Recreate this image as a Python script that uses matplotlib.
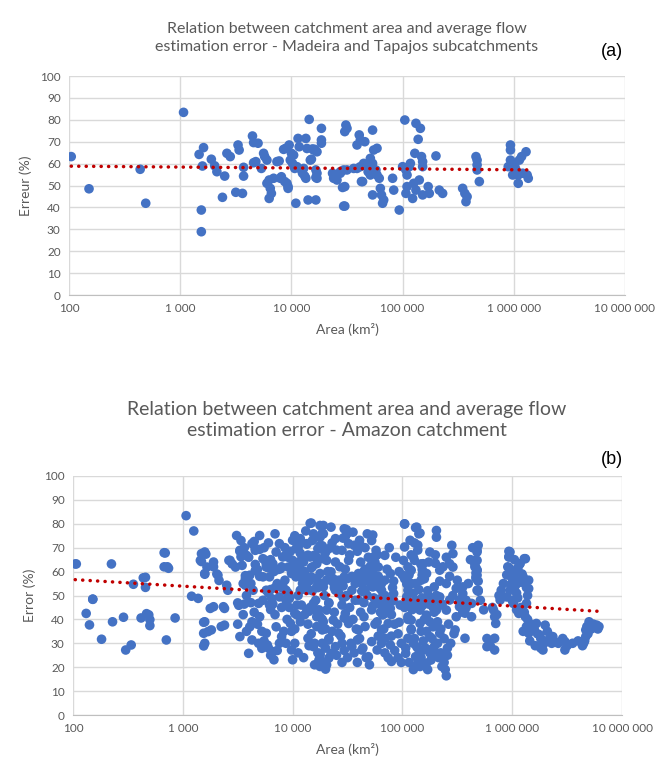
import numpy as np
import matplotlib
matplotlib.use("Agg")
import matplotlib.pyplot as plt
from matplotlib.ticker import FixedLocator, FuncFormatter, NullLocator

# ---------------- data (log10 of catchment area in km², error in %) ----------------
madeira_tapajos_log_area = [
    2.02, 2.18, 2.64, 2.69, 3.03, 3.17, 3.21, 3.20, 3.19, 3.19, 3.28, 3.31, 3.33, 3.38,
    3.40, 3.42, 3.45, 3.50, 3.52, 3.53, 3.56, 3.57, 3.57, 3.65, 3.66, 3.70, 3.66, 3.68,
    3.75, 3.76, 3.78, 3.73, 3.78, 3.80, 3.81, 3.82, 3.80, 3.84, 3.87, 3.89, 3.91, 3.93,
    3.95, 3.96, 3.98, 3.97, 3.99, 4.00, 4.01, 4.03, 4.04, 4.06, 4.07, 4.09, 4.10, 4.12,
    4.13, 4.15, 4.16, 4.18, 4.19, 4.21, 4.22, 4.22, 4.22, 4.27, 4.27, 4.27, 4.14, 4.20,
    4.23, 4.02, 4.05, 4.11, 4.17, 4.13, 4.23, 4.23, 3.90, 3.94, 3.97, 4.38, 4.41, 4.44,
    4.47, 4.46, 4.47, 4.63, 4.65, 4.59, 4.70,
    4.49, 4.48, 4.50, 4.61, 4.62, 4.59, 4.66, 4.73, 4.74, 4.77, 4.71, 4.73, 4.76, 4.77,
    4.79, 4.80, 4.81, 4.83, 4.82, 4.73, 4.64, 4.48, 4.48, 4.38, 4.37, 4.44, 4.50, 4.56,
    4.62, 4.69, 4.71, 4.91, 4.92, 4.97, 5.02, 5.00, 5.03, 5.06, 5.07, 5.04, 5.04, 5.03,
    5.09, 5.10, 5.12, 5.16, 5.14, 5.11, 5.17, 5.18, 5.18, 5.15, 5.12, 5.18, 5.23, 5.24,
    5.30, 5.33, 5.36, 5.54, 5.56, 5.57, 5.58, 5.66, 5.67, 5.67, 5.67, 5.69, 5.97, 5.97,
    5.97, 5.98, 6.01, 6.02, 6.04, 6.05, 6.07, 6.04, 6.08, 6.11, 6.12, 6.13, 5.99, 5.95,
]
madeira_tapajos_error = [
    63.2, 48.5, 57.4, 41.9, 83.4, 64.2, 67.3, 58.9, 38.8, 28.9, 62.0, 59.0, 56.3, 44.6,
    54.3, 64.7, 63.2, 46.9, 68.5, 66.2, 46.4, 54.3, 58.3, 72.6, 69.6, 69.3, 60.4, 60.9,
    64.7, 63.2, 61.6, 57.8, 51.0, 52.5, 48.7, 46.4, 44.1, 53.3, 60.9, 61.2, 54.0, 66.5,
    67.0, 51.0, 68.5, 49.5, 61.6, 64.7, 60.1, 57.8, 41.9, 71.5, 67.7, 57.1, 55.6, 54.3,
    71.5, 43.4, 80.2, 62.0, 66.7, 66.5, 57.1, 43.4, 53.7, 76.1, 70.8, 69.3, 66.9, 66.2,
    65.4, 63.9, 58.6, 57.8, 61.6, 53.3, 53.3, 55.6, 53.3, 51.8, 48.7, 54.8, 52.5, 56.3,
    57.1, 49.1, 40.6, 51.8, 60.1, 57.8, 58.6,
    77.6, 74.6, 76.1, 73.1, 70.8, 68.5, 70.0, 75.3, 66.2, 67.0, 62.4, 60.1, 57.1, 54.8,
    53.3, 48.7, 45.7, 43.4, 41.9, 45.7, 51.8, 49.5, 40.6, 53.3, 55.6, 55.6, 57.1, 57.8,
    58.6, 56.3, 54.8, 53.3, 47.9, 38.8, 79.9, 58.6, 57.1, 58.6, 60.1, 54.8, 49.5, 46.4,
    44.1, 51.0, 78.4, 76.1, 71.1, 64.7, 63.2, 60.9, 58.6, 52.5, 47.9, 45.7, 49.5, 46.4,
    63.5, 47.9, 46.4, 48.7, 46.4, 42.6, 44.9, 63.2, 61.6, 59.4, 57.1, 51.8, 68.5, 66.2,
    61.6, 59.4, 58.6, 57.1, 54.8, 61.6, 63.2, 51.0, 55.6, 65.4, 54.8, 53.3, 54.8, 58.6,
]

other_amazon_log_area = [
    2.03, 2.35, 2.12, 2.15, 2.18, 2.26, 2.36, 2.46, 2.48, 2.53, 2.55, 2.66, 2.66, 2.62,
    2.67, 2.70, 2.70, 2.83, 2.83, 2.87, 2.85, 2.93,
    3.10, 2.84, 2.86, 3.17, 3.20, 3.16, 3.22, 3.28, 3.32, 3.20, 3.08, 3.14, 3.25, 3.28,
    3.37, 3.20, 3.19, 3.23, 3.26, 3.35, 3.38, 3.20, 3.49, 3.43, 3.52, 3.48, 3.41, 3.51,
    3.52, 3.60, 3.57, 3.54, 3.58, 3.63, 3.70, 3.66, 3.61, 3.67, 3.73, 3.76, 3.64, 3.69,
    3.70, 3.61, 3.63, 3.69, 3.72, 3.76, 3.77, 3.83, 3.82, 3.84, 3.88, 3.85, 3.82, 3.79,
    3.76, 3.79, 3.85, 3.90, 3.94, 3.99, 4.00, 3.91, 3.96, 3.93, 3.99, 4.03, 4.00, 4.07,
    4.13, 4.17, 4.19, 4.28, 4.28, 4.23, 4.16, 4.10, 4.22, 4.31, 4.17, 4.25, 4.31, 4.04,
    4.02, 4.07, 4.13, 4.19, 4.22, 4.28, 4.31, 4.14, 4.19, 4.25, 4.30, 4.33, 3.94, 3.88,
    3.98, 4.13, 4.07,
    4.25, 4.35, 4.47, 4.25, 4.39, 4.55, 4.68, 4.60, 4.76, 4.84, 4.78, 4.33, 4.45, 4.39,
    4.51, 4.27, 4.25, 4.35, 4.47, 4.60, 4.68, 4.84, 4.89, 4.28, 4.39, 4.54, 4.66, 4.33,
    4.45, 4.60, 4.76, 4.86, 4.25, 4.37, 4.48, 4.65, 4.77, 4.84, 4.27, 4.33, 4.25, 4.35,
    4.25, 4.31, 4.42, 4.45, 4.60, 4.59, 4.63, 4.69, 4.72, 4.81, 4.89, 4.90, 4.84, 5.02,
    5.13, 5.15, 5.31, 5.31, 5.07, 5.02, 5.10, 5.01, 5.25, 5.19, 5.08, 5.22, 5.34, 5.45,
    5.46, 5.43, 5.46, 5.08, 5.17, 5.29, 5.40, 5.50, 5.55, 5.05, 5.16, 5.06, 5.22, 5.31,
    5.43, 5.52, 5.49, 5.48, 5.57, 5.08, 5.10, 5.16, 5.28, 5.25, 5.12, 5.16, 5.22, 5.29,
    5.34, 5.36, 5.40, 5.34, 5.68, 5.66, 5.68, 5.69, 5.68,
    4.51, 4.42, 4.57, 4.73, 4.92, 4.66, 4.51, 4.87, 5.05, 5.16, 5.25, 4.81, 4.89, 4.39,
    4.54, 4.77, 5.05, 5.19, 5.03, 5.13, 5.25, 5.08, 5.34, 5.40, 5.55,
    5.69, 5.68, 5.68, 5.68, 5.67, 5.68, 5.63, 5.63, 5.77, 5.84, 5.84, 5.83, 5.84, 5.85,
    5.90, 5.89, 5.98, 5.97, 6.12, 6.07, 5.98, 6.04, 6.10, 6.15, 6.15, 6.01, 5.98, 5.95,
    6.01, 6.06, 6.13, 6.12, 6.13, 6.18, 6.22, 6.30, 6.25, 6.28, 6.28, 6.37, 6.36, 6.48,
    6.48, 6.65, 6.67, 6.68, 6.71, 6.77, 6.79, 6.67, 6.15, 6.20,
]
other_amazon_error = [
    63.2, 63.2, 42.5, 37.7, 48.4, 31.7, 39.0, 40.9, 27.2, 29.3, 54.7, 57.6, 53.4, 40.6,
    42.4, 39.9, 37.4, 67.9, 62.0, 61.4, 31.4, 40.6,
    77.0, 67.8, 62.0, 67.5, 68.2, 64.7, 61.9, 64.0, 58.5, 59.2, 49.7, 48.8, 44.6, 45.3,
    45.3, 39.0, 34.2, 34.9, 35.6, 37.0, 37.6, 30.0, 75.1, 64.7, 68.9, 61.9, 52.2, 45.9,
    32.8, 25.8, 57.1, 62.6, 66.8, 71.7, 75.1, 68.9, 58.5, 60.6, 65.4, 61.9, 52.2, 46.7,
    41.1, 36.9, 31.4, 30.0, 27.9, 34.2, 29.3, 23.1, 26.5, 75.8, 71.7, 68.2, 63.3, 57.8,
    52.2, 46.0, 36.9, 32.8, 30.0, 27.2, 23.1, 66.1, 61.9, 56.4, 59.2, 69.6, 73.1, 73.8,
    71.7, 80.3, 75.8, 79.3, 75.8, 69.6, 66.1, 64.0, 63.3, 64.7, 57.8, 55.0, 56.4, 46.0,
    42.5, 39.0, 43.9, 46.7, 41.1, 39.0, 43.9, 32.1, 28.6, 25.1, 19.2, 23.8, 52.2, 49.4,
    38.3, 52.2, 52.2,
    79.3, 78.6, 77.9, 74.4, 73.8, 76.5, 75.8, 71.7, 68.9, 66.8, 61.9, 69.6, 68.9, 64.0,
    64.7, 65.4, 59.2, 59.9, 57.8, 59.2, 57.1, 56.4, 59.2, 53.6, 52.2, 52.2, 52.2, 46.7,
    46.0, 48.1, 46.7, 48.1, 41.1, 39.7, 42.5, 41.1, 39.0, 42.5, 35.6, 31.4, 25.8, 25.8,
    20.3, 21.0, 34.2, 30.0, 35.6, 31.4, 27.2, 24.4, 30.7, 35.6, 29.3, 22.4, 32.1, 80.0,
    78.6, 75.8, 77.2, 74.4, 73.1, 70.3, 66.1, 64.7, 68.2, 63.3, 60.6, 59.2, 60.6, 71.0,
    67.5, 63.3, 61.9, 55.0, 56.4, 53.6, 55.0, 56.4, 53.6, 52.2, 48.1, 46.7, 41.8, 43.9,
    48.1, 45.3, 41.1, 35.6, 32.1, 35.6, 30.0, 38.3, 36.9, 32.8, 24.4, 20.3, 21.7, 28.6,
    24.4, 20.3, 16.4, 34.2, 68.9, 64.7, 60.6, 52.2, 58.5,
    71.7, 56.4, 55.0, 53.6, 50.8, 37.0, 38.3, 38.3, 41.1, 43.9, 49.4, 52.2, 44.6, 28.6,
    28.6, 27.2, 32.1, 27.2, 25.8, 28.6, 27.2, 39.7, 49.4, 43.9, 50.8,
    71.0, 68.2, 64.7, 60.6, 57.8, 52.2, 46.7, 41.1, 28.6, 27.2, 32.1, 43.9, 41.1, 38.3,
    52.2, 48.1, 68.2, 66.1, 65.4, 63.3, 60.6, 59.9, 57.8, 56.4, 52.9, 56.4, 52.2, 49.4,
    46.7, 42.5, 46.7, 41.1, 37.0, 35.6, 38.3, 37.6, 33.5, 30.0, 27.2, 32.8, 30.0, 30.7,
    27.2, 30.0, 32.8, 37.0, 38.3, 37.6, 37.0, 35.6, 34.2, 37.6,
]

extra_amazon_points = [
    (3.55, 55), (3.58, 50), (3.62, 47), (3.65, 43), (3.68, 38), (3.72, 35), (3.74, 31),
    (3.78, 28), (3.80, 25), (3.86, 27), (3.88, 30), (3.92, 35), (3.95, 40), (3.97, 45),
    (3.86, 55), (3.83, 60), (3.80, 65), (3.74, 70), (3.78, 72), (3.90, 62), (3.93, 70),
    (3.96, 66), (3.70, 58), (3.66, 63), (3.60, 66), (3.56, 70), (3.53, 73), (3.62, 55),
    (3.73, 48), (3.84, 42), (3.90, 45), (3.94, 48), (3.99, 35), (4.02, 30), (3.63, 39),
    (3.58, 35), (3.55, 42), (3.50, 38),
    (4.02, 75), (4.05, 70), (4.08, 65), (4.11, 60), (4.15, 56), (4.18, 52), (4.21, 48),
    (4.24, 44), (4.27, 40), (4.30, 36), (4.33, 32), (4.05, 50), (4.08, 46), (4.11, 42),
    (4.14, 38), (4.17, 34), (4.20, 30), (4.23, 26), (4.27, 22), (4.30, 28), (4.33, 47),
    (4.02, 36), (4.05, 26), (4.10, 24), (4.15, 29), (4.20, 21), (4.24, 23), (4.27, 30),
    (4.12, 77), (4.18, 73), (4.25, 71), (4.30, 68), (4.32, 60), (4.06, 62), (4.09, 55),
    (4.16, 45), (4.22, 37), (4.29, 50),
    (4.36, 72), (4.40, 69), (4.43, 62), (4.46, 54), (4.49, 50), (4.52, 45), (4.55, 40),
    (4.58, 36), (4.61, 32), (4.64, 28), (4.67, 24), (4.70, 21), (4.38, 43), (4.41, 38),
    (4.44, 33), (4.47, 27), (4.50, 24), (4.53, 30), (4.56, 26), (4.59, 22), (4.62, 43),
    (4.65, 47), (4.68, 50), (4.37, 57), (4.42, 51), (4.48, 61), (4.52, 67), (4.56, 71),
    (4.62, 64), (4.66, 61), (4.69, 66), (4.40, 25), (4.45, 22), (4.36, 35), (4.57, 48),
    (4.63, 55), (4.54, 58), (4.46, 74),
    (4.72, 73), (4.75, 64), (4.78, 58), (4.81, 55), (4.84, 50), (4.87, 45), (4.90, 42),
    (4.93, 38), (4.96, 34), (4.99, 30), (4.72, 44), (4.75, 38), (4.78, 33), (4.81, 30),
    (4.84, 26), (4.87, 24), (4.90, 33), (4.93, 27), (4.96, 24), (4.99, 22), (4.74, 49),
    (4.80, 43), (4.86, 61), (4.92, 56), (4.97, 60), (4.94, 66), (4.98, 46), (4.71, 57),
    (4.88, 70), (4.83, 36),
    (5.02, 57), (5.05, 62), (5.08, 67), (5.11, 72), (5.14, 69), (5.17, 63), (5.20, 57),
    (5.23, 52), (5.26, 47), (5.29, 43), (5.32, 39), (5.35, 36), (5.38, 32), (5.41, 28),
    (5.02, 45), (5.05, 40), (5.08, 36), (5.11, 32), (5.14, 28), (5.17, 24), (5.20, 21),
    (5.23, 19), (5.26, 23), (5.29, 26), (5.32, 30), (5.35, 26), (5.38, 22), (5.41, 25),
    (5.44, 30), (5.03, 28), (5.06, 22), (5.10, 19), (5.13, 21), (5.16, 26), (5.19, 31),
    (5.22, 35), (5.25, 39), (5.28, 45), (5.31, 50), (5.34, 56), (5.37, 62), (5.40, 66),
    (5.43, 58), (5.46, 50), (5.49, 53), (5.52, 48), (5.55, 43), (5.12, 55), (5.18, 49),
    (5.24, 64), (5.30, 67), (5.36, 46), (5.42, 38), (5.47, 34), (5.20, 40), (5.15, 45),
    (5.27, 32), (5.33, 24), (5.39, 19), (5.21, 28), (5.25, 26), (5.17, 35), (5.11, 46),
    (5.07, 51),
    (5.58, 48), (5.60, 55), (5.62, 65), (5.64, 70), (5.66, 62), (5.69, 56), (5.71, 48),
    (5.74, 44), (5.77, 32), (5.80, 29), (5.82, 45), (5.86, 42), (5.88, 50), (5.92, 55),
    (5.96, 62), (5.99, 58), (6.02, 53), (6.05, 49), (6.08, 45), (6.11, 43), (6.14, 40),
    (6.17, 38), (6.20, 36), (6.23, 34), (6.26, 32), (6.29, 30), (6.32, 35), (6.35, 33),
    (6.38, 31), (6.42, 30), (6.46, 32), (6.50, 29), (6.55, 30), (6.60, 31), (6.64, 29),
    (6.66, 31), (6.69, 34), (6.72, 36), (6.74, 38), (6.76, 37), (6.78, 36), (6.70, 39),
    (6.10, 35), (6.16, 31), (6.21, 29), (6.26, 28), (6.30, 31), (6.02, 65), (6.05, 61),
    (6.09, 59), (6.12, 56), (6.14, 50), (6.00, 48), (6.04, 44),
]

title_a = "Relation between catchment area and average flow\nestimation error - Madeira and Tapajos subcatchments"
title_b = "Relation between catchment area and average flow\nestimation error - Amazon catchment"
ylabel_a = "Erreur (%)"
ylabel_b = "Error (%)"
xlabel = "Area (km²)"
x_ticks = [1e2, 1e3, 1e4, 1e5, 1e6, 1e7]
y_ticks = list(range(0, 101, 10))

# ---------------- style ----------------
FONT = ["Lato", "DejaVu Sans"]
GRAY_TXT = "#595959"
GRID = "#D9D9D9"
BLUE = "#4472C4"
RED = "#C00000"

fig = plt.figure(figsize=(6.70, 7.69), dpi=100)


def space_thousands(v, pos=None):
    return f"{int(round(v)):,}".replace(",", " ")


def style_axes(ax, ylabel):
    ax.set_xscale("log")
    ax.set_xlim(1e2, 1e7)
    ax.set_ylim(0, 100)
    ax.xaxis.set_major_locator(FixedLocator(x_ticks))
    ax.xaxis.set_minor_locator(NullLocator())
    ax.xaxis.set_major_formatter(FuncFormatter(space_thousands))
    ax.yaxis.set_major_locator(FixedLocator(y_ticks))
    ax.grid(True, color=GRID, linewidth=1.0)
    ax.set_axisbelow(True)
    for s in ax.spines.values():
        s.set_visible(False)
    ax.spines["bottom"].set_visible(True)
    ax.spines["bottom"].set_color("#BFBFBF")
    ax.tick_params(length=0, labelsize=8.5, labelcolor=GRAY_TXT, pad=6)
    for lab in ax.get_xticklabels() + ax.get_yticklabels():
        lab.set_family(FONT)
    ax.set_ylabel(ylabel, fontsize=10, color=GRAY_TXT, family=FONT, labelpad=6)
    ax.set_xlabel(xlabel, fontsize=10, color=GRAY_TXT, family=FONT, labelpad=6)


def plot_panel(ax, log_area, err):
    la = np.asarray(log_area, dtype=float)
    e = np.asarray(err, dtype=float)
    ax.scatter(10 ** la, e, s=48, color=BLUE, edgecolors="none", zorder=3)
    k, c = np.polyfit(la, e, 1)
    xs = np.linspace(la.min(), la.max(), 50)
    ax.plot(10 ** xs, k * xs + c, linestyle=(0, (0.05, 2.1)), color=RED,
            linewidth=2.5, dash_capstyle="round", zorder=4)


# panel (a)
ax1 = fig.add_axes([69 / 670, 1 - 295 / 769, (625 - 69) / 670, (295 - 76) / 769])
plot_panel(ax1, madeira_tapajos_log_area, madeira_tapajos_error)
style_axes(ax1, ylabel_a)
fig.text(347 / 670, 1 - 38 / 769, title_a, ha="center", va="center", fontsize=11.5,
         color=GRAY_TXT, family=FONT, linespacing=1.3)
fig.text(612 / 670, 1 - 52 / 769, "(a)", ha="center", va="center", fontsize=13,
         color="black", family=["Liberation Sans", "DejaVu Sans"])

# panel (b)
extra_la = [p[0] for p in extra_amazon_points]
extra_err = [p[1] for p in extra_amazon_points]
ax2 = fig.add_axes([73 / 670, 1 - 715 / 769, (622 - 73) / 670, (715 - 476) / 769])
plot_panel(ax2,
           list(madeira_tapajos_log_area) + list(other_amazon_log_area) + extra_la,
           list(madeira_tapajos_error) + list(other_amazon_error) + extra_err)
style_axes(ax2, ylabel_b)
fig.text(347 / 670, 1 - 420 / 769, title_b, ha="center", va="center", fontsize=14,
         color=GRAY_TXT, family=FONT, linespacing=1.25)
fig.text(612 / 670, 1 - 459 / 769, "(b)", ha="center", va="center", fontsize=13,
         color="black", family=["Liberation Sans", "DejaVu Sans"])

fig.savefig("out.png", dpi=100)
